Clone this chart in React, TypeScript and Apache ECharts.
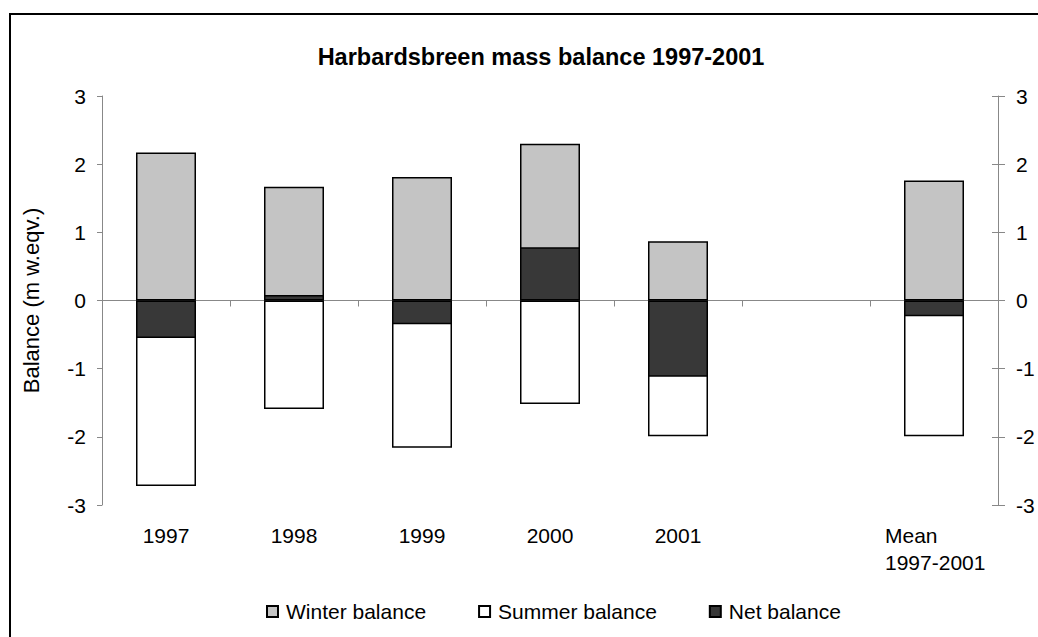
import React, { useEffect, useRef } from "react";
import * as echarts from "echarts";

const categories = ["1997", "1998", "1999", "2000", "2001", "", "Mean\n1997-2001"];
const winterBalance = [2.17, 1.67, 1.81, 2.3, 0.87, null, 1.76];
const summerBalance = [-2.72, -1.59, -2.16, -1.52, -1.99, null, -1.99];
const netBalance = [-0.55, 0.08, -0.35, 0.78, -1.12, null, -0.23];
const yTicks = { min: -3, max: 3, interval: 1 };

const FONT = 'Arial, "Liberation Sans", sans-serif';

export default function App() {
  const ref = useRef<HTMLDivElement>(null);
  useEffect(() => {
    if (!ref.current) return;
    const chart = echarts.init(ref.current, undefined, { renderer: "svg" });
    const barCommon = {
      type: "bar" as const,
      barWidth: 60,
      barGap: "-100%",
      xAxisIndex: 0,
      yAxisIndex: 0,
    };
    chart.setOption({
      animation: false,
      backgroundColor: "#fff",
      textStyle: { fontFamily: FONT, color: "#000" },
      title: {
        text: "Harbardsbreen mass balance 1997-2001",
        left: 541,
        top: 45,
        textAlign: "center",
        padding: 0,
        textStyle: { fontFamily: FONT, fontSize: 23.5, fontWeight: "bold", color: "#000" },
      },
      graphic: [
        {
          type: "rect",
          shape: { x: 10, y: 14, width: 1100, height: 700 },
          style: { fill: "none", stroke: "#000", lineWidth: 2 },
          silent: true,
          z: -1,
        },
      ],
      legend: {
        left: 266,
        top: 601,
        padding: 0,
        itemWidth: 11,
        itemHeight: 11,
        itemGap: 52,
        icon: "rect",
        textStyle: { fontFamily: FONT, fontSize: 21, color: "#000", padding: [0, 0, 0, 3] },
        data: ["Winter balance", "Summer balance", "Net balance"],
      },
      grid: { left: 102, right: 40, top: 96, bottom: 132, containLabel: false },
      xAxis: [
        {
          type: "category",
          data: categories,
          position: "bottom",
          axisLine: { show: false, onZero: false },
          axisTick: { show: false },
          axisLabel: {
            interval: 0,
            margin: 17,
            fontFamily: FONT,
            fontSize: 21,
            lineHeight: 27,
            color: "#000",
            formatter: (v: string) =>
              v.indexOf("\n") >= 0
                ? v.split("\n").map((s) => `{m|${s}}`).join("\n")
                : v,
            rich: {
              m: { width: 98, align: "left", fontFamily: FONT, fontSize: 21, lineHeight: 27, color: "#000" },
            },
          },
          splitLine: { show: false },
        },
        {
          type: "category",
          data: categories,
          position: "bottom",
          axisLine: { show: true, onZero: true, lineStyle: { color: "#888", width: 1 } },
          axisTick: { show: true, length: 6, lineStyle: { color: "#888" } },
          axisLabel: { show: false },
          splitLine: { show: false },
        },
      ],
      yAxis: [
        {
          type: "value",
          ...yTicks,
          position: "left",
          name: "Balance (m w.eqv.)",
          nameLocation: "middle",
          nameRotate: 90,
          nameGap: 60,
          nameTextStyle: { fontFamily: FONT, fontSize: 22, color: "#000" },
          axisLine: { show: true, lineStyle: { color: "#888" } },
          axisTick: { show: true, length: 5, lineStyle: { color: "#888" } },
          axisLabel: { margin: 16, fontFamily: FONT, fontSize: 21, color: "#000" },
          splitLine: { show: false },
        },
        {
          type: "value",
          ...yTicks,
          position: "right",
          axisLine: { show: true, lineStyle: { color: "#888" } },
          axisTick: { show: true, length: 7, lineStyle: { color: "#888" } },
          axisLabel: { margin: 18, fontFamily: FONT, fontSize: 21, color: "#000" },
          splitLine: { show: false },
        },
        {
          type: "value",
          ...yTicks,
          position: "right",
          axisLine: { show: false },
          axisTick: { show: true, inside: true, length: 6, lineStyle: { color: "#888" } },
          axisLabel: { show: false },
          splitLine: { show: false },
        },
      ],
      series: [
        {
          ...barCommon,
          name: "Winter balance",
          data: winterBalance,
          itemStyle: { color: "#c4c4c4", borderColor: "#000", borderWidth: 1.5 },
        },
        {
          ...barCommon,
          name: "Summer balance",
          data: summerBalance,
          itemStyle: { color: "#ffffff", borderColor: "#000", borderWidth: 1.5 },
        },
        {
          ...barCommon,
          name: "Net balance",
          data: netBalance,
          itemStyle: { color: "#383838", borderColor: "#000", borderWidth: 1.5 },
        },
      ],
    });
    return () => chart.dispose();
  }, []);
  return <div ref={ref} style={{ width: 1038, height: 637, position: "absolute", left: 0, top: 0 }} />;
}
